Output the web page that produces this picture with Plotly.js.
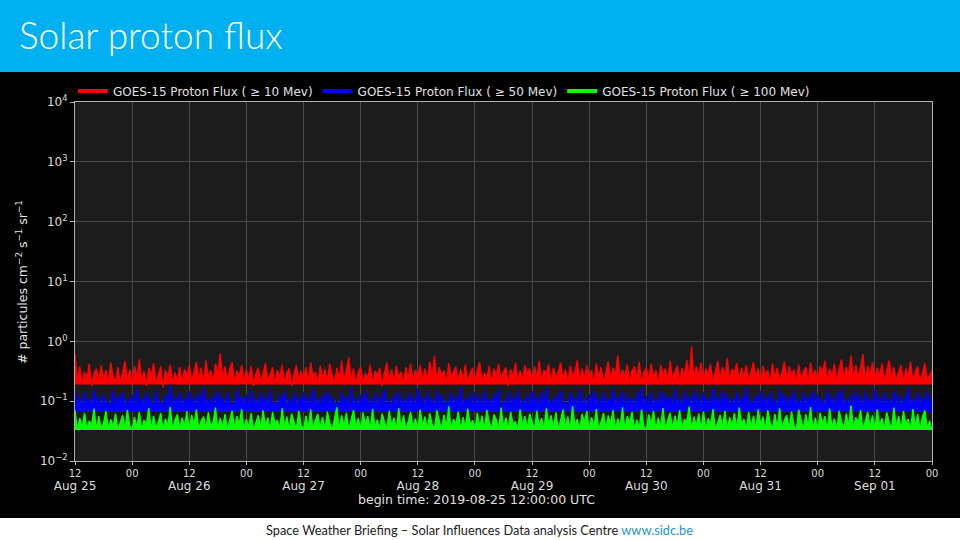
<!DOCTYPE html>
<html>
<head>
<meta charset="utf-8">
<script src="https://cdn.plot.ly/plotly-3.0.1.min.js"></script>
<style>
  html, body { margin: 0; padding: 0; background: #000; }
  #chart { width: 960px; height: 540px; }
</style>
</head>
<body>
<div id="chart"></div>
<script>
// ---- Data (30-minute samples starting 2019-08-25 12:00 UTC) ----
const startTimeUTC = '2019-08-25T12:00:00Z';
const sampleStepMinutes = 30;

const seriesNames = [
  'GOES-15 Proton Flux ( \u2265 10 Mev)',
  'GOES-15 Proton Flux ( \u2265 50 Mev)',
  'GOES-15 Proton Flux ( \u2265 100 Mev)'
];

const flux10MeV = [
  0.62,0.21,0.38,0.19,0.31,0.24,0.42,0.18,0.29,0.35,0.2,0.4,0.23,0.33,0.19,0.44,0.26,0.21,0.37,0.2,0.3,0.47,0.22,0.34,
  0.19,0.39,0.25,0.5,0.21,0.32,0.18,0.36,0.27,0.43,0.2,0.29,0.38,0.17,0.33,0.24,0.41,0.2,0.3,0.22,0.37,0.19,0.34,0.26,
  0.4,0.21,0.31,0.45,0.22,0.36,0.19,0.48,0.25,0.33,0.2,0.42,0.28,0.63,0.23,0.38,0.21,0.35,0.45,0.19,0.32,0.26,0.4,0.2,
  0.34,0.22,0.39,0.18,0.29,0.36,0.2,0.31,0.43,0.21,0.27,0.37,0.19,0.33,0.24,0.41,0.2,0.3,0.35,0.18,0.28,0.4,0.22,0.32,
  0.23,0.37,0.2,0.44,0.26,0.31,0.19,0.39,0.24,0.34,0.21,0.42,0.27,0.2,0.36,0.23,0.47,0.21,0.33,0.54,0.22,0.35,0.19,0.3,
  0.38,0.2,0.29,0.24,0.41,0.19,0.32,0.27,0.36,0.18,0.3,0.44,0.22,0.34,0.2,0.39,0.25,0.31,0.19,0.37,0.23,0.42,0.21,0.33,
  0.26,0.4,0.2,0.35,0.22,0.46,0.24,0.57,0.21,0.37,0.27,0.32,0.19,0.43,0.25,0.3,0.38,0.2,0.34,0.23,0.41,0.19,0.29,0.36,
  0.21,0.33,0.45,0.2,0.3,0.24,0.39,0.19,0.35,0.27,0.42,0.21,0.31,0.37,0.18,0.34,0.26,0.44,0.2,0.32,0.23,0.4,0.28,0.35,
  0.2,0.38,0.24,0.47,0.21,0.33,0.29,0.41,0.19,0.36,0.25,0.3,0.44,0.22,0.34,0.2,0.39,0.27,0.31,0.48,0.21,0.35,0.23,0.4,
  0.26,0.33,0.19,0.43,0.24,0.37,0.2,0.31,0.46,0.22,0.36,0.27,0.58,0.21,0.34,0.25,0.41,0.2,0.32,0.38,0.23,0.45,0.2,0.3,
  0.37,0.22,0.42,0.25,0.33,0.19,0.4,0.27,0.35,0.21,0.47,0.24,0.31,0.39,0.2,0.36,0.26,0.49,0.23,0.82,0.22,0.38,0.27,0.44,
  0.21,0.35,0.29,0.41,0.2,0.33,0.47,0.23,0.37,0.26,0.52,0.22,0.34,0.3,0.43,0.2,0.36,0.25,0.4,0.21,0.32,0.45,0.24,0.35,
  0.2,0.39,0.27,0.33,0.19,0.42,0.24,0.36,0.21,0.3,0.46,0.22,0.38,0.26,0.34,0.2,0.41,0.23,0.31,0.37,0.19,0.44,0.25,0.33,
  0.22,0.38,0.29,0.47,0.21,0.35,0.26,0.42,0.2,0.34,0.5,0.23,0.37,0.28,0.58,0.22,0.4,0.25,0.36,0.61,0.21,0.39,0.27,0.45,
  0.22,0.36,0.26,0.43,0.2,0.33,0.48,0.23,0.37,0.21,0.31,0.4,0.19,0.35,0.25,0.46,0.21,0.32,0.38,0.2,0.3,0.43,0.22,0.27,
  0.33
];

const flux50MeV = [
  0.15,0.08,0.12,0.07,0.14,0.09,0.11,0.075,0.16,0.085,0.12,0.07,0.13,0.09,0.1,0.068,0.15,0.08,0.12,0.095,0.14,0.072,0.11,0.085,
  0.13,0.07,0.16,0.09,0.11,0.078,0.14,0.085,0.12,0.07,0.15,0.09,0.1,0.075,0.13,0.082,0.19,0.07,0.12,0.088,0.14,0.073,0.11,0.09,
  0.15,0.08,0.12,0.068,0.14,0.09,0.17,0.076,0.11,0.085,0.13,0.07,0.15,0.092,0.12,0.074,0.14,0.083,0.1,0.07,0.16,0.088,0.12,0.078,
  0.13,0.071,0.15,0.087,0.11,0.075,0.14,0.09,0.12,0.068,0.16,0.082,0.1,0.074,0.13,0.089,0.15,0.072,0.11,0.084,0.14,0.07,0.12,0.09,
  0.14,0.078,0.12,0.068,0.16,0.086,0.11,0.073,0.13,0.09,0.15,0.075,0.12,0.082,0.1,0.069,0.14,0.088,0.12,0.074,0.17,0.083,0.11,0.071,
  0.13,0.086,0.15,0.072,0.11,0.08,0.14,0.068,0.12,0.09,0.16,0.076,0.1,0.083,0.13,0.07,0.15,0.087,0.11,0.074,0.14,0.081,0.12,0.069,
  0.16,0.085,0.12,0.073,0.14,0.09,0.11,0.07,0.15,0.082,0.13,0.076,0.1,0.088,0.14,0.071,0.12,0.084,0.17,0.075,0.11,0.09,0.13,0.07,
  0.14,0.079,0.12,0.068,0.15,0.087,0.11,0.074,0.13,0.09,0.16,0.072,0.1,0.083,0.14,0.07,0.12,0.088,0.15,0.076,0.11,0.084,0.13,0.069,
  0.15,0.086,0.12,0.073,0.14,0.08,0.17,0.071,0.11,0.089,0.13,0.075,0.15,0.083,0.1,0.07,0.14,0.087,0.12,0.074,0.16,0.081,0.11,0.072,
  0.13,0.088,0.15,0.07,0.12,0.084,0.14,0.076,0.11,0.09,0.16,0.073,0.12,0.082,0.15,0.069,0.13,0.087,0.11,0.075,0.14,0.08,0.17,0.072,
  0.12,0.086,0.14,0.071,0.11,0.083,0.15,0.076,0.13,0.09,0.12,0.07,0.16,0.085,0.11,0.074,0.14,0.088,0.12,0.073,0.15,0.08,0.13,0.069,
  0.14,0.087,0.11,0.075,0.16,0.082,0.12,0.07,0.15,0.089,0.13,0.074,0.11,0.084,0.14,0.071,0.12,0.086,0.17,0.076,0.11,0.08,0.13,0.07,
  0.15,0.085,0.12,0.073,0.14,0.089,0.11,0.07,0.16,0.082,0.13,0.076,0.12,0.087,0.15,0.072,0.11,0.083,0.14,0.075,0.12,0.09,0.15,0.071,
  0.13,0.084,0.11,0.074,0.15,0.088,0.12,0.07,0.14,0.082,0.16,0.076,0.11,0.086,0.13,0.072,0.15,0.083,0.12,0.069,0.14,0.087,0.11,0.075,
  0.16,0.08,0.12,0.072,0.14,0.088,0.11,0.074,0.15,0.083,0.13,0.07,0.12,0.086,0.17,0.076,0.11,0.084,0.14,0.071,0.12,0.089,0.15,0.078,
  0.12
];

const flux100MeV = [
  0.07,0.033,0.052,0.036,0.064,0.033,0.047,0.04,0.075,0.033,0.056,0.034,0.043,0.068,0.033,0.05,0.037,0.062,0.033,0.046,0.058,0.034,0.071,0.039,
  0.033,0.054,0.036,0.066,0.033,0.048,0.041,0.077,0.033,0.057,0.035,0.045,0.063,0.033,0.051,0.038,0.08,0.033,0.049,0.06,0.034,0.053,0.037,0.068,
  0.033,0.059,0.04,0.072,0.033,0.047,0.055,0.034,0.065,0.038,0.044,0.078,0.033,0.052,0.036,0.061,0.033,0.048,0.069,0.035,0.056,0.041,0.074,0.033,
  0.05,0.036,0.063,0.033,0.046,0.058,0.034,0.07,0.039,0.053,0.033,0.066,0.042,0.048,0.033,0.076,0.037,0.055,0.033,0.062,0.045,0.034,0.068,0.04,
  0.033,0.057,0.036,0.073,0.033,0.049,0.061,0.035,0.054,0.033,0.067,0.043,0.033,0.05,0.079,0.034,0.058,0.038,0.064,0.033,0.047,0.071,0.036,0.052,
  0.033,0.065,0.04,0.056,0.033,0.074,0.037,0.049,0.033,0.062,0.045,0.034,0.069,0.039,0.053,0.033,0.077,0.036,0.058,0.033,0.046,0.066,0.035,0.051,
  0.033,0.072,0.038,0.055,0.033,0.063,0.042,0.034,0.07,0.047,0.033,0.059,0.036,0.082,0.033,0.05,0.041,0.067,0.033,0.054,0.035,0.075,0.039,0.048,
  0.033,0.064,0.037,0.057,0.033,0.071,0.044,0.034,0.06,0.049,0.033,0.078,0.036,0.053,0.033,0.066,0.04,0.046,0.033,0.073,0.038,0.056,0.034,0.062,
  0.045,0.033,0.069,0.037,0.052,0.033,0.076,0.041,0.058,0.034,0.065,0.033,0.048,0.072,0.036,0.055,0.033,0.083,0.039,0.05,0.033,0.061,0.043,0.068,
  0.033,0.054,0.036,0.074,0.033,0.047,0.063,0.034,0.058,0.04,0.07,0.033,0.051,0.037,0.079,0.033,0.056,0.044,0.066,0.033,0.049,0.035,0.072,0.038,
  0.033,0.06,0.042,0.068,0.033,0.053,0.036,0.077,0.033,0.048,0.064,0.034,0.057,0.039,0.071,0.033,0.05,0.045,0.081,0.033,0.055,0.037,0.062,0.034,
  0.067,0.033,0.052,0.04,0.074,0.033,0.046,0.059,0.035,0.069,0.033,0.054,0.038,0.063,0.033,0.078,0.042,0.05,0.033,0.066,0.036,0.057,0.033,0.073,
  0.039,0.055,0.033,0.07,0.044,0.033,0.061,0.036,0.076,0.033,0.049,0.058,0.034,0.067,0.04,0.033,0.072,0.047,0.033,0.06,0.037,0.08,0.033,0.053,
  0.033,0.064,0.041,0.056,0.033,0.075,0.036,0.051,0.033,0.069,0.045,0.034,0.062,0.038,0.085,0.033,0.054,0.043,0.071,0.033,0.048,0.066,0.035,0.058,
  0.033,0.073,0.039,0.052,0.033,0.065,0.044,0.034,0.078,0.036,0.057,0.033,0.068,0.041,0.05,0.033,0.074,0.037,0.061,0.033,0.055,0.07,0.034,0.047,
  0.033
];

// lower edge of each band (dense data floor)
const bandFloors = [0.19, 0.066, 0.033];

const seriesColors = ['#ff0000', '#0000ff', '#00ff00'];

// x-axis tick labels (every 12 h)
const xTickTimes = [
  '2019-08-25 12:00','2019-08-26 00:00','2019-08-26 12:00','2019-08-27 00:00','2019-08-27 12:00',
  '2019-08-28 00:00','2019-08-28 12:00','2019-08-29 00:00','2019-08-29 12:00','2019-08-30 00:00',
  '2019-08-30 12:00','2019-08-31 00:00','2019-08-31 12:00','2019-09-01 00:00','2019-09-01 12:00',
  '2019-09-02 00:00'
];
const xTickHours = ['12','00','12','00','12','00','12','00','12','00','12','00','12','00','12','00'];
const xTickDates = ['Aug 25','','Aug 26','','Aug 27','','Aug 28','','Aug 29','','Aug 30','','Aug 31','','Sep 01',''];

// y-axis decades
const yTickValues = [0.01, 0.1, 1, 10, 100, 1000, 10000];
const yTickExponents = ['\u22122', '\u22121', '0', '1', '2', '3', '4'];

const chartTitle = 'Solar proton flux';
const yAxisTitle = '# particules cm<sup>\u22122</sup> s<sup>\u22121</sup> sr<sup>\u22121</sup>';
const beginTimeLabel = 'begin time: 2019-08-25 12:00:00 UTC';
const footerText = 'Space Weather Briefing \u2013 Solar Influences Data analysis Centre <span style="color:#2a93d5">www.sidc.be</span>';

// ---- build ----
function pad(n) { return (n < 10 ? '0' : '') + n; }
function sampleTimes(n) {
  const t0 = Date.parse(startTimeUTC);
  const out = [];
  for (let i = 0; i < n; i++) {
    const d = new Date(t0 + i * sampleStepMinutes * 60000);
    out.push(d.getUTCFullYear() + '-' + pad(d.getUTCMonth() + 1) + '-' + pad(d.getUTCDate()) + ' ' +
             pad(d.getUTCHours()) + ':' + pad(d.getUTCMinutes()));
  }
  return out;
}

const W = 960, H = 540;
const plotL = 75, plotR = 932, plotT = 102, plotB = 461;
const px = x => (x - plotL) / (plotR - plotL);
const py = y => (plotB - y) / (plotB - plotT);

const allSeries = [flux10MeV, flux50MeV, flux100MeV];
const traces = [];
allSeries.forEach((vals, i) => {
  const xs = sampleTimes(vals.length);
  // invisible floor of the band
  traces.push({
    type: 'scatter', mode: 'lines',
    x: [xs[0], xs[xs.length - 1]], y: [bandFloors[i], bandFloors[i]],
    line: { width: 0, color: seriesColors[i] },
    showlegend: false, hoverinfo: 'skip'
  });
  traces.push({
    type: 'scatter', mode: 'lines',
    x: xs, y: vals,
    fill: 'tonexty', fillcolor: seriesColors[i],
    line: { color: seriesColors[i], width: 1.4 },
    showlegend: false, hoverinfo: 'skip'
  });
});
// legend entries (thicker swatches)
allSeries.forEach((vals, i) => {
  traces.push({
    type: 'scatter', mode: 'lines', x: [null], y: [null],
    name: seriesNames[i],
    line: { color: seriesColors[i], width: 4 },
    showlegend: true
  });
});

const layout = {
  width: W, height: H,
  paper_bgcolor: '#000000',
  plot_bgcolor: '#1c1c1c',
  margin: { l: plotL, r: W - plotR, t: plotT, b: H - plotB, pad: 0 },
  font: { family: 'DejaVu Sans, sans-serif', color: '#dcdcdc', size: 12 },
  title: {
    text: chartTitle,
    font: { family: 'Lato, Open Sans, sans-serif', size: 37, color: '#ffffff', weight: 300 },
    xref: 'container', yref: 'container',
    x: 19 / W, xanchor: 'left',
    y: 1 - 36 / H, yanchor: 'middle'
  },
  showlegend: true,
  legend: {
    orientation: 'h',
    traceorder: 'normal',
    x: px(73), xanchor: 'left',
    y: py(91), yanchor: 'middle',
    bgcolor: 'rgba(0,0,0,0)',
    font: { family: 'DejaVu Sans, sans-serif', size: 12, color: '#e0e0e0' },
    itemclick: false, itemdoubleclick: false
  },
  xaxis: {
    type: 'date',
    range: ['2019-08-25 12:00', '2019-09-02 00:00'],
    tickmode: 'array',
    tickvals: xTickTimes,
    ticktext: xTickHours.map((h, i) => xTickDates[i]
      ? h + '<br><span style="font-size:12px">' + xTickDates[i] + '</span>'
      : h),
    tickfont: { family: 'DejaVu Sans, sans-serif', size: 10, color: '#dcdcdc' },
    ticks: 'outside', ticklen: 3, tickcolor: '#bbbbbb', tickwidth: 1,
    showgrid: true, gridcolor: '#4a4a4a', gridwidth: 1,
    showline: true, linecolor: '#b0b0b0', linewidth: 1, mirror: true,
    zeroline: false, fixedrange: true
  },
  yaxis: {
    type: 'log',
    range: [-2, 4],
    tickmode: 'array',
    tickvals: yTickValues,
    ticktext: yTickExponents.map(e => '10<sup>' + e + '</sup>'),
    tickfont: { family: 'DejaVu Sans, sans-serif', size: 12, color: '#dcdcdc' },
    ticks: 'outside', ticklen: 4, tickcolor: '#bbbbbb', tickwidth: 1,
    showgrid: true, gridcolor: '#4a4a4a', gridwidth: 1,
    showline: true, linecolor: '#b0b0b0', linewidth: 1, mirror: true,
    zeroline: false, fixedrange: true
  },
  shapes: [
    { type: 'rect', xref: 'paper', yref: 'paper', layer: 'below',
      x0: px(0), x1: px(W), y0: py(72), y1: py(0),
      fillcolor: '#00b0f0', line: { width: 0 } },
    { type: 'rect', xref: 'paper', yref: 'paper', layer: 'below',
      x0: px(0), x1: px(W), y0: py(H), y1: py(518),
      fillcolor: '#ffffff', line: { width: 0 } }
  ],
  annotations: [
    { text: yAxisTitle, xref: 'paper', yref: 'paper',
      x: px(22), y: py(282), xanchor: 'center', yanchor: 'middle',
      textangle: -90, showarrow: false,
      font: { family: 'DejaVu Sans, sans-serif', size: 12.5, color: '#e6e6e6' } },
    { text: beginTimeLabel, xref: 'paper', yref: 'paper',
      x: px(476), y: py(500), xanchor: 'center', yanchor: 'middle',
      showarrow: false,
      font: { family: 'DejaVu Sans, sans-serif', size: 12.5, color: '#e0e0e0' } },
    { text: footerText, xref: 'paper', yref: 'paper',
      x: px(479), y: py(530), xanchor: 'center', yanchor: 'middle',
      showarrow: false,
      font: { family: 'Lato, Open Sans, sans-serif', size: 12.8, color: '#222222' } }
  ]
};

Plotly.newPlot('chart', traces, layout, { displayModeBar: false, staticPlot: true });
</script>
</body>
</html>
